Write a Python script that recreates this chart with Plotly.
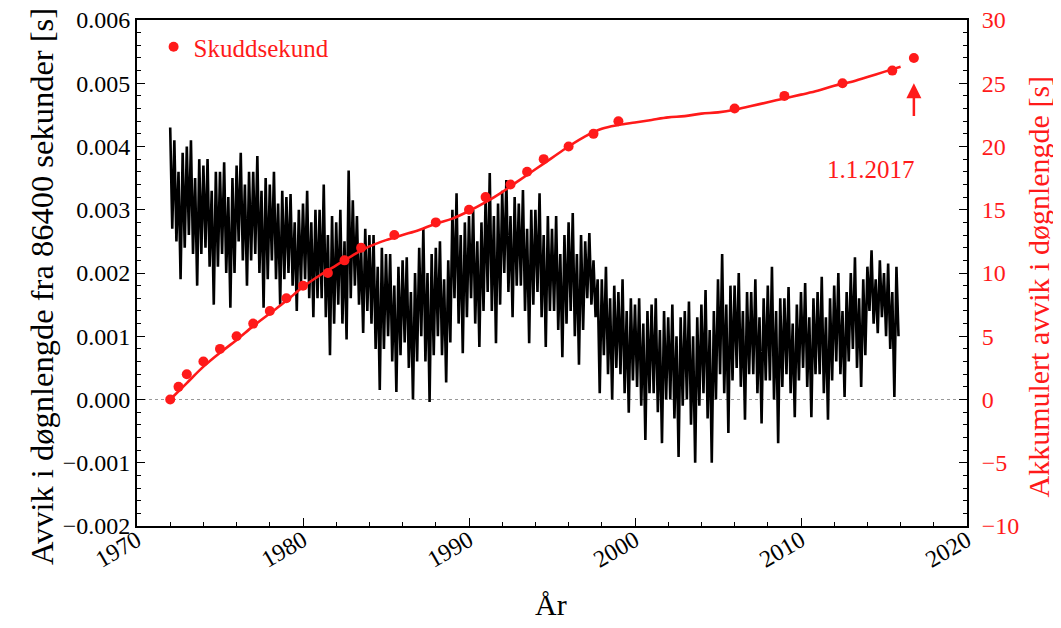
import numpy as np
import plotly.graph_objects as go

# ---- Daily length-of-day deviation (read as quarterly high / low envelope, in ms) ----
lod_start_year = 1972.0
lod_high_ms = [
    4.30, 4.10, 3.60, 3.90,   # 1972
    4.00, 4.10, 3.50, 3.80,   # 1973
    3.70, 3.80, 3.30, 3.60,   # 1974
    3.60, 3.75, 3.20, 3.50,   # 1975
    3.70, 3.90, 3.40, 3.60,   # 1976
    3.60, 3.85, 3.30, 3.50,   # 1977
    3.40, 3.60, 3.10, 3.30,   # 1978
    3.20, 3.25, 2.80, 3.00,   # 1979
    3.10, 3.30, 2.80, 3.00,   # 1980
    3.00, 3.40, 2.60, 2.90,   # 1981
    2.80, 3.00, 2.50, 3.62,   # 1982
    3.15, 2.90, 2.40, 2.70,   # 1983
    2.60, 2.60, 2.10, 2.40,   # 1984
    2.30, 2.30, 1.80, 2.10,   # 1985
    2.20, 2.25, 1.70, 2.00,   # 1986
    2.40, 2.70, 2.00, 2.30,   # 1987
    2.40, 2.50, 1.90, 2.20,   # 1988
    3.00, 3.26, 2.60, 2.80,   # 1989
    2.90, 3.00, 2.50, 2.80,   # 1990
    3.20, 3.58, 2.90, 3.10,   # 1991
    3.30, 3.47, 2.90, 3.20,   # 1992
    3.10, 3.31, 2.70, 3.00,   # 1993
    3.00, 3.26, 2.60, 2.90,   # 1994
    2.70, 2.90, 2.30, 2.60,   # 1995
    2.80, 2.95, 2.30, 2.60,   # 1996
    2.50, 2.63, 2.20, 1.90,   # 1997
    1.90, 2.10, 1.60, 1.80,   # 1998
    1.70, 1.90, 1.40, 1.60,   # 1999
    1.50, 1.60, 1.20, 1.40,   # 2000
    1.50, 1.60, 1.10, 1.40,   # 2001
    1.30, 1.50, 1.00, 1.30,   # 2002
    1.40, 1.55, 1.00, 1.30,   # 2003
    1.50, 1.73, 1.10, 1.40,   # 2004
    1.90, 2.30, 1.50, 1.80,   # 2005
    1.80, 2.00, 1.40, 1.70,   # 2006
    1.70, 1.90, 1.30, 1.60,   # 2007
    1.80, 2.10, 1.40, 1.60,   # 2008
    1.60, 1.78, 1.20, 1.50,   # 2009
    1.70, 1.84, 1.30, 1.60,   # 2010
    1.70, 1.94, 1.30, 1.60,   # 2011
    1.80, 2.00, 1.40, 1.70,   # 2012
    2.00, 2.25, 1.60, 1.90,   # 2013
    2.10, 2.36, 1.90, 2.20,   # 2014
    2.00, 2.15, 1.70, 2.10,   # 2015
]
lod_low_ms = [
    2.70, 2.50, 1.90, 2.40,   # 1972
    2.60, 2.30, 1.80, 2.30,   # 1973
    2.40, 2.10, 1.50, 2.10,   # 1974
    2.30, 2.00, 1.45, 2.00,   # 1975
    2.50, 2.20, 1.80, 2.20,   # 1976
    2.30, 2.00, 1.45, 1.90,   # 1977
    2.20, 1.90, 1.50, 1.90,   # 1978
    2.00, 1.80, 1.40, 1.80,   # 1979
    1.90, 1.60, 1.30, 1.60,   # 1980
    1.60, 1.30, 0.70, 1.20,   # 1981
    1.50, 1.20, 0.95, 1.60,   # 1982
    1.80, 1.50, 1.05, 1.40,   # 1983
    1.20, 0.80, 0.15, 0.80,   # 1984
    1.00, 0.60, 0.12, 0.70,   # 1985
    0.90, 0.50, 0.00, 0.60,   # 1986
    1.00, 0.60, -0.04, 0.70,  # 1987
    1.00, 0.70, 0.27, 0.90,   # 1988
    1.60, 1.20, 0.73, 1.30,   # 1989
    1.60, 1.20, 0.83, 1.40,   # 1990
    1.70, 1.40, 0.89, 1.50,   # 1991
    2.00, 1.70, 1.30, 1.80,   # 1992
    1.80, 1.40, 0.89, 1.50,   # 1993
    1.70, 1.30, 0.83, 1.40,   # 1994
    1.40, 1.10, 0.67, 1.20,   # 1995
    1.40, 1.00, 0.55, 1.10,   # 1996
    1.60, 1.50, 1.30, 0.10,   # 1997
    0.70, 0.40, 0.00, 0.50,   # 1998
    0.40, 0.10, -0.21, 0.30,  # 1999
    0.20, -0.10, -0.64, 0.10, # 2000
    0.10, -0.20, -0.69, 0.00, # 2001
    0.00, -0.30, -0.91, -0.10,# 2002
    0.00, -0.40, -1.00, -0.10,# 2003
    0.10, -0.30, -1.00, 0.00, # 2004
    0.40, 0.10, -0.53, 0.30,  # 2005
    0.50, 0.20, -0.32, 0.40,  # 2006
    0.40, 0.10, -0.38, 0.30,  # 2007
    0.30, 0.00, -0.69, 0.20,  # 2008
    0.40, 0.10, -0.28, 0.30,  # 2009
    0.50, 0.20, -0.28, 0.40,  # 2010
    0.40, 0.10, -0.32, 0.30,  # 2011
    0.60, 0.40, 0.04, 0.60,   # 2012
    0.80, 0.50, 0.20, 0.70,   # 2013
    1.40, 1.20, 1.05, 1.30,   # 2014
    1.00, 0.80, 0.04, 1.00,   # 2015
]

# ---- Accumulated deviation (s), read at whole years ----
acc_years = list(range(1972, 2017))
acc_values = [0.0, 1.3, 2.6, 3.7, 4.7, 5.8, 6.8, 7.8, 8.9, 9.8,
              10.6, 11.4, 12.1, 12.6, 13.0, 13.4, 13.9, 14.3, 14.9, 15.6,
              16.4, 17.3, 18.2, 19.1, 20.0, 20.8, 21.4, 21.7, 21.9, 22.1,
              22.3, 22.4, 22.6, 22.7, 22.9, 23.2, 23.5, 23.8, 24.1, 24.4,
              24.8, 25.1, 25.5, 25.9, 26.3]

# ---- Leap seconds ----
leap_years = [1972.0, 1972.5, 1973.0, 1974.0, 1975.0, 1976.0, 1977.0, 1978.0,
              1979.0, 1980.0, 1981.5, 1982.5, 1983.5, 1985.5, 1988.0, 1990.0,
              1991.0, 1992.5, 1993.5, 1994.5, 1996.0, 1997.5, 1999.0, 2006.0,
              2009.0, 2012.5, 2015.5, 2016.8]
leap_counts = list(range(0, 28))

# build interleaved envelope series
n = len(lod_high_ms)
q = lod_start_year + np.arange(n) / 4.0
lod_x = np.empty(2 * n)
lod_y = np.empty(2 * n)
lod_x[0::2] = q
lod_x[1::2] = q + 0.125
lod_y[0::2] = np.array(lod_high_ms) / 1000.0
lod_y[1::2] = np.array(lod_low_ms) / 1000.0

RED = "#ff1a1a"
FONT = "Liberation Serif"
TICK = 24

fig = go.Figure()
fig.add_trace(go.Scatter(x=lod_x, y=lod_y, mode="lines",
                         line=dict(color="black", width=2.6),
                         showlegend=False, yaxis="y"))
fig.add_trace(go.Scatter(x=acc_years, y=acc_values, mode="lines",
                         line=dict(color=RED, width=2.6, shape="spline"),
                         showlegend=False, yaxis="y2"))
fig.add_trace(go.Scatter(x=leap_years, y=leap_counts, mode="markers",
                         marker=dict(color=RED, size=10),
                         name="Skuddsekund", yaxis="y2"))

fig.add_shape(type="line", xref="paper", yref="y", x0=0, x1=1, y0=0, y1=0,
              line=dict(color="#999999", width=1.2, dash="dot"), layer="below")

# arrow and label for the last leap second
fig.add_annotation(x=leap_years[-1], y=25.0, xref="x", yref="y2",
                   ax=leap_years[-1], ay=22.3, axref="x", ayref="y2",
                   text="", showarrow=True, arrowhead=2, arrowsize=1.2,
                   arrowwidth=2.5, arrowcolor=RED)
fig.add_annotation(x=2014.2, y=18.2, xref="x", yref="y2", text="1.1.2017",
                   showarrow=False, font=dict(family=FONT, size=25, color=RED))

# axis titles as annotations (placed like the reference)
fig.add_annotation(x=-0.1145, y=0.474, xref="paper", yref="paper",
                   xanchor="center", yanchor="middle",
                   text="Avvik i døgnlengde fra 86400 sekunder [s]", textangle=-90,
                   showarrow=False, font=dict(family=FONT, size=32.5, color="black"))
fig.add_annotation(x=1.086, y=0.474, xref="paper", yref="paper",
                   xanchor="center", yanchor="middle",
                   text="Akkumulert avvik i døgnlengde [s]", textangle=-90,
                   showarrow=False, font=dict(family=FONT, size=30, color=RED))
fig.add_annotation(x=0.4988, y=-0.156, xref="paper", yref="paper",
                   xanchor="center", yanchor="middle",
                   text="År", showarrow=False,
                   font=dict(family=FONT, size=30, color="black"))

# the page body adds an 8 px offset, so margins are shifted to compensate
fig.update_layout(
    width=1061, height=628,
    margin=dict(l=129, r=102, t=12, b=110),
    paper_bgcolor="white", plot_bgcolor="white",
    font=dict(family=FONT, size=TICK, color="black"),
    showlegend=True,
    legend=dict(x=0.02, y=0.992, xanchor="left", yanchor="top",
                bgcolor="rgba(0,0,0,0)", font=dict(family=FONT, size=25, color=RED),
                itemwidth=30),
    xaxis=dict(range=[1970, 2020], tick0=1970, dtick=10, tickangle=-30,
               ticks="inside", ticklen=8, tickwidth=1.2, tickcolor="black",
               minor=dict(dtick=2, ticks="inside", ticklen=4, tickcolor="black"),
               showline=True, linecolor="black", linewidth=2, mirror=True,
               showgrid=False, zeroline=False, automargin=False,
               ticklabeloverflow="allow", ticklabelstandoff=-11,
               tickfont=dict(family=FONT, size=TICK)),
    yaxis=dict(range=[-0.002, 0.006], tick0=0, dtick=0.001, tickformat=".3f",
               ticks="inside", ticklen=8, tickwidth=1.2, tickcolor="black",
               minor=dict(dtick=0.0002, ticks="inside", ticklen=4, tickcolor="black"),
               showline=True, linecolor="black", linewidth=2,
               showgrid=False, zeroline=False, automargin=False,
               ticklabeloverflow="allow",
               tickfont=dict(family=FONT, size=TICK)),
    yaxis2=dict(range=[-10, 30], tick0=0, dtick=5, overlaying="y", side="right",
                ticks="inside", ticklen=8, tickwidth=1.2, tickcolor="black",
                minor=dict(dtick=1, ticks="inside", ticklen=4, tickcolor="black"),
                showline=True, linecolor="black", linewidth=2,
                showgrid=False, zeroline=False, automargin=False,
                ticklabeloverflow="allow", ticklabelstandoff=8,
                tickfont=dict(family=FONT, size=TICK, color=RED)),
)

fig.write_html("out.html", config={"displayModeBar": False})
